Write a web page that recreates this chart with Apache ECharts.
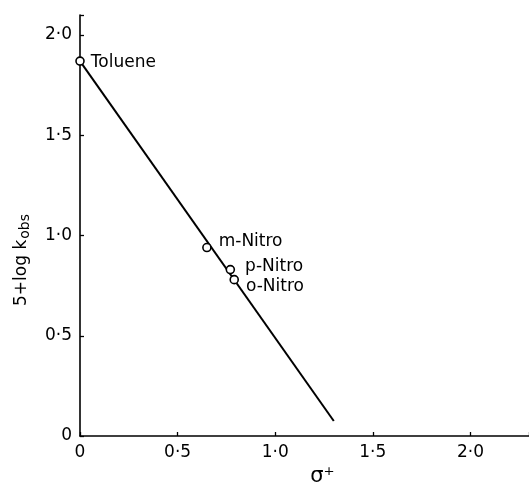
<!DOCTYPE html>
<html>
<head>
<meta charset="utf-8">
<script src="https://cdn.jsdelivr.net/npm/echarts@6/dist/echarts.min.js"></script>
<style>
  html, body { margin: 0; padding: 0; background: #fff; }
  #chart { width: 529px; height: 483px; }
</style>
</head>
<body>
<div id="chart"></div>
<script>
// compounds (sigma+, 5 + log kobs)
const names = ['Toluene', 'm-Nitro', 'p-Nitro', 'o-Nitro']
const sigmaPlus = [0, 0.65, 0.77, 0.79]
const logK = [1.87, 0.94, 0.83, 0.78]
// end points of the fitted line
const fitX = [0, 1.30]
const fitY = [1.87, 0.075]

const labelOffsets = [[1, 1], [2, -6], [5, -3], [2, 7]]

const FONT = 'DejaVu Sans'
const dot = v => (v === 0 ? '0' : v.toFixed(1).replace('.', '·'))
const onTick = v => Math.abs(v * 2 - Math.round(v * 2)) < 1e-6

const chart = echarts.init(document.getElementById('chart'))
chart.setOption({
  animation: false,
  textStyle: { fontFamily: FONT, color: '#000' },
  grid: { left: 80, right: 0, top: 15, bottom: 47, outerBoundsMode: 'none', containLabel: false },
  xAxis: {
    type: 'value',
    min: 0, max: 2.3, interval: 0.5,
    name: 'σ⁺',
    nameLocation: 'middle',
    nameGap: 30,
    nameTextStyle: { fontSize: 21, color: '#000', padding: [0, 0, 0, 36] },
    axisLine: { lineStyle: { color: '#000', width: 1.6 } },
    axisTick: { inside: true, length: 4, lineStyle: { color: '#000', width: 1.3 } },
    axisLabel: { fontSize: 17, color: '#000', margin: 8, formatter: v => (onTick(v) ? dot(v) : '') },
    splitLine: { show: false }
  },
  yAxis: {
    type: 'value',
    min: 0, max: 2.1, interval: 0.5,
    axisLine: { lineStyle: { color: '#000', width: 1.6 } },
    axisTick: { inside: true, length: 4, lineStyle: { color: '#000', width: 1.3 } },
    axisLabel: { fontSize: 17, color: '#000', margin: 8, formatter: v => (onTick(v) ? dot(v) : '') },
    splitLine: { show: false }
  },
  graphic: [{
    type: 'text',
    x: 22, y: 260,
    rotation: Math.PI / 2,
    style: {
      text: '5+log k{s|obs}',
      rich: { s: { fontSize: 14, fontFamily: FONT, fill: '#000', padding: [7, 0, 0, 1] } },
      fontSize: 17,
      fontFamily: FONT,
      fill: '#000',
      align: 'center',
      verticalAlign: 'middle'
    }
  }],
  series: [
    {
      type: 'line',
      data: fitX.map((x, i) => [x, fitY[i]]),
      symbol: 'none',
      lineStyle: { color: '#000', width: 2 },
      z: 1
    },
    {
      type: 'scatter',
      data: sigmaPlus.map((x, i) => ({
        value: [x, logK[i]],
        name: names[i],
        label: { offset: labelOffsets[i], color: '#000' }
      })),
      symbol: 'circle',
      symbolSize: 8,
      itemStyle: { color: '#fff', borderColor: '#000', borderWidth: 1.6, opacity: 1 },
      label: {
        show: true,
        position: 'right',
        formatter: p => p.name,
        fontSize: 17,
        color: '#000',
        opacity: 1,
        fontFamily: FONT
      },
      z: 3
    }
  ]
})
</script>
</body>
</html>
